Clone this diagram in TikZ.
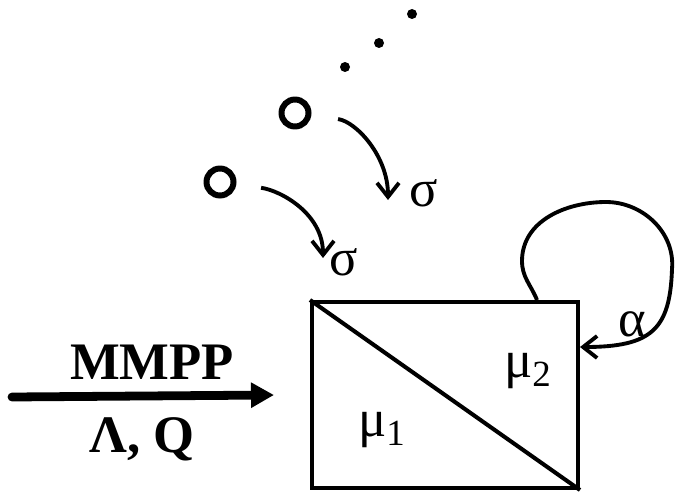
\documentclass[tikz,border=0pt]{standalone}
\usepackage{fontspec}
\setmainfont{Liberation Serif}
\usetikzlibrary{arrows.meta,positioning}

\begin{document}
\begin{tikzpicture}[x=0.02cm, y=0.02cm, font=\fontsize{30}{34}\selectfont,
  curv/.style={line width=2.2pt, -{Straight Barb[length=0.28cm,width=0.44cm,line width=2.2pt]}},
  cust/.style={draw, circle, line width=3.4pt, minimum size=0.54cm, inner sep=0pt}]
\useasboundingbox (0,0) rectangle (675,491);
% server with two phases
\node[draw, line width=2.3pt, minimum width=5.32cm, minimum height=3.72cm, inner sep=0pt] (queue) at (445,96) {};
\draw[line width=2.3pt] (queue.north west) -- (queue.south east);
\node (mu1) at (382,61) {μ\textsubscript{1}}; \node (mu2) at (528,120) {μ\textsubscript{2}};
% feedback loop
\coordinate (lp) at ([xshift=-0.86cm]queue.north east); \coordinate (le) at ([yshift=0.96cm]queue.east);
\draw[curv] (lp) to[out=112,in=270] (522,230) to[out=90,in=180] (606,289) to[out=0,in=85] (672,222) .. controls (670,162) and (652,144) .. (le);
\node (al) at (632,167) {α};
% retrial orbit
\node[cust] (c1) at (220,309) {}; \node[cust] (c2) at (295,378) {};
\foreach \x/\y [count=\i] in {345/424,379/448,412/477} \fill (\x,\y) circle (0.1cm) coordinate (d\i);
\coordinate (t1) at (323,233); \coordinate (t2) at (388,291);
\draw[curv, shorten <=0.5cm] (c1) to[out=-8,in=90] (t1);
\draw[curv, shorten <=0.54cm] (c2) to[out=-8,in=90] (t2);
\node (s1) at (344,229) {σ}; \node (s2) at (424,298) {σ};
% input flow
\coordinate (in) at (12,94);
\draw[line width=5pt, line cap=round, -{Triangle[length=0.46cm,width=0.48cm]}] (in) -- ([xshift=-0.72cm]queue.west);
\node[font=\fontsize{30}{34}\selectfont\bfseries] (mmpp) at (152,129) {MMPP};
\node[font=\fontsize{30}{34}\selectfont\bfseries] (lq) at (142,52) {Λ, Q};
\end{tikzpicture}
\end{document}
